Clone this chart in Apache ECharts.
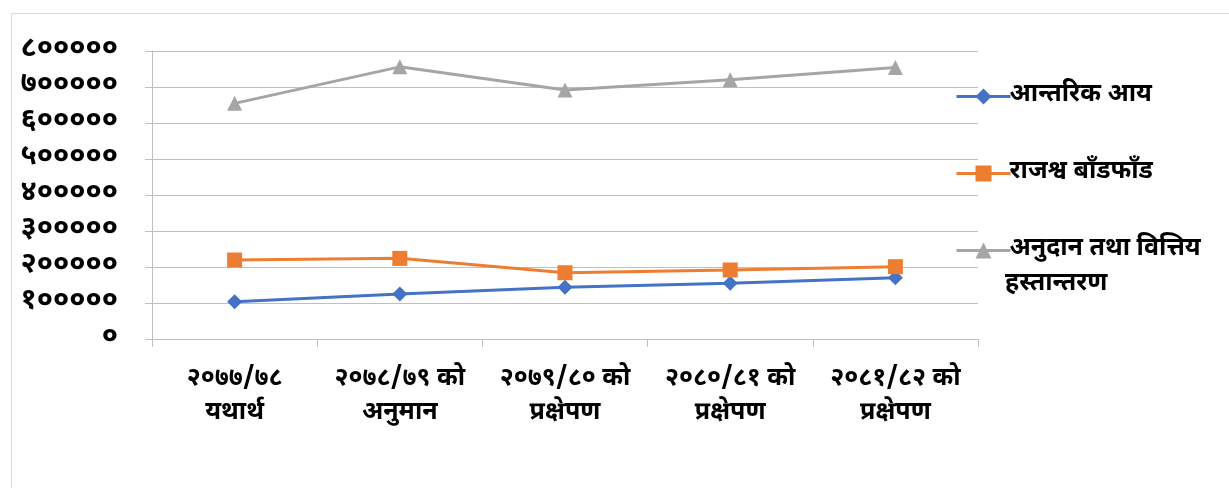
<!DOCTYPE html>
<html><head><meta charset="utf-8">
<script src="https://cdn.jsdelivr.net/npm/echarts@6/dist/echarts.min.js"></script>
<style>html,body{margin:0;padding:0;background:#fff}#c{width:1229px;height:488px}</style>
</head><body><div id="c"></div>
<script>
var categories = ['२०७७/७८\nयथार्थ','२०७८/७९ को\nअनुमान','२०७९/८० को\nप्रक्षेपण','२०८०/८१ को\nप्रक्षेपण','२०८१/८२ को\nप्रक्षेपण'];
var seriesNames = ['आन्तरिक आय','राजश्व बाँडफाँड','अनुदान तथा वित्तिय हस्तान्तरण'];
var internalIncome = [103700, 125000, 143500, 155000, 170000];
var revenueSharing = [219400, 224000, 184000, 191700, 200900];
var grants = [654600, 756000, 691700, 720000, 754400];
var devDigits = ['०','१','२','३','४','५','६','७','८','९'];
function toDev(s){return String(s).replace(/[0-9]/g,function(d){return devDigits[+d];});}
var font = '"Noto Sans Devanagari","Noto Sans","DejaVu Sans",sans-serif';
var chart = echarts.init(document.getElementById('c'));
function leg(name, top){
  return {data:[{name:name, lineStyle:{width:3}}], orient:'vertical', left:950, top:top, itemWidth:54, itemHeight:20, itemGap:0,
    selectedMode:false, lineStyle:{width:3},
    formatter:function(n){return n==='अनुदान तथा वित्तिय हस्तान्तरण'?'अनुदान तथा वित्तिय':n;},
    textStyle:{fontSize:25, fontWeight:'bold', color:'#000', fontFamily:font, padding:[0,0,0,-6]}};
}
chart.setOption({
  animation:false,
  graphic:[{type:'rect', shape:{x:11.5,y:13.5,width:1300,height:600}, style:{fill:'none',stroke:'#d9d9d9',lineWidth:1}, silent:true},
    {type:'text', left:1005, top:273, style:{text:'हस्तान्तरण', font:'bold 25px '+font, fill:'#000'}}],
  grid:{left:152, right:251, top:51, bottom:149},
  legend:[leg(seriesNames[0],79), leg(seriesNames[1],156), leg(seriesNames[2],233)],
  xAxis:{type:'category', data:categories, boundaryGap:true,
    axisLine:{lineStyle:{color:'#bfbfbf',width:1}},
    axisTick:{show:true, length:8, lineStyle:{color:'#bfbfbf'}},
    axisLabel:{fontSize:25, fontWeight:'bold', color:'#000', fontFamily:font, lineHeight:34, margin:24, interval:0}},
  yAxis:{type:'value', min:0, max:800000, interval:100000,
    axisLine:{show:true, lineStyle:{color:'#bfbfbf',width:1}},
    axisTick:{show:true, length:7, lineStyle:{color:'#bfbfbf'}},
    splitLine:{lineStyle:{color:'#bfbfbf',width:1}},
    axisLabel:{fontSize:29, fontWeight:'bold', color:'#000', fontFamily:font, margin:34, formatter:function(v){return toDev(v);}}},
  series:[
    {name:seriesNames[0], type:'line', data:internalIncome, symbol:'diamond', symbolSize:15, lineStyle:{width:3,color:'#4472C4'}, itemStyle:{color:'#4472C4'}},
    {name:seriesNames[1], type:'line', data:revenueSharing, symbol:'rect', symbolSize:15, lineStyle:{width:3,color:'#ED7D31'}, itemStyle:{color:'#ED7D31'}},
    {name:seriesNames[2], type:'line', data:grants, symbol:'triangle', symbolSize:15, lineStyle:{width:3,color:'#A5A5A5'}, itemStyle:{color:'#A5A5A5'}}
  ]
});
</script></body></html>
